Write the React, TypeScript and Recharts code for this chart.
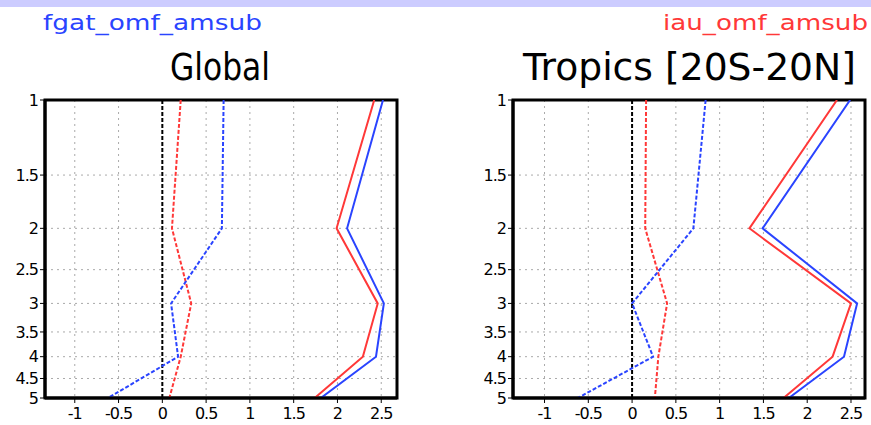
import React from 'react';
import {
  LineChart,
  Line,
  XAxis,
  YAxis,
  CartesianGrid,
  ReferenceLine,
  ReferenceArea,
} from 'recharts';

const channels = [1, 2, 3, 4, 5];
const yTicks = [1, 1.5, 2, 2.5, 3, 3.5, 4, 4.5, 5];
const xTicks = [-1, -0.5, 0, 0.5, 1, 1.5, 2, 2.5];

// Global panel
const globalFgatRms = [2.52, 2.11, 2.53, 2.44, 1.81];
const globalIauRms = [2.42, 1.99, 2.46, 2.29, 1.74];
const globalFgatBias = [0.7, 0.68, 0.1, 0.18, -0.62];
const globalIauBias = [0.21, 0.11, 0.33, 0.21, 0.08];

// Tropics panel
const tropicsFgatRms = [2.49, 1.49, 2.57, 2.42, 1.79];
const tropicsIauRms = [2.34, 1.34, 2.5, 2.29, 1.73];
const tropicsFgatBias = [0.84, 0.7, 0.0, 0.24, -0.62];
const tropicsIauBias = [0.16, 0.15, 0.4, 0.3, 0.26];

const BLUE = '#2a44ff';
const RED = '#ff3838';
const FONT = '"DejaVu Sans", sans-serif';

const buildRows = (fr: number[], ir: number[], fb: number[], ib: number[]) =>
  channels.map((ch, i) => ({
    ch,
    fgatRms: fr[i],
    iauRms: ir[i],
    fgatBias: fb[i],
    iauBias: ib[i],
  }));

const globalRows = buildRows(globalFgatRms, globalIauRms, globalFgatBias, globalIauBias);
const tropicsRows = buildRows(tropicsFgatRms, tropicsIauRms, tropicsFgatBias, tropicsIauBias);

// tick labels: narrow-ish like the plot's stroke font; 4.5 and 5 sit close, keep them apart
const tickStyle = { fill: '#000', fontFamily: FONT, fontSize: '16px', letterSpacing: '-1px' };

interface PanelProps {
  data: ReturnType<typeof buildRows>;
  xDomain: [number, number];
}

function Panel({ data, xDomain }: PanelProps) {
  return (
    <LineChart
      width={400}
      height={425}
      layout="vertical"
      data={data}
      margin={{ top: 100, right: 3, bottom: 2, left: 0 }}
    >
      <CartesianGrid stroke="#aaaaaa" strokeDasharray="2 4" />
      <XAxis
        type="number"
        domain={xDomain}
        ticks={xTicks}
        interval={0}
        allowDataOverflow
        height={25}
        tick={{ style: tickStyle, dy: 3 }}
        tickSize={5}
        tickLine={{ stroke: '#000' }}
        axisLine={{ stroke: '#000', strokeWidth: 3 }}
      />
      <YAxis
        type="number"
        dataKey="ch"
        scale="log"
        domain={[1, 5]}
        ticks={yTicks}
        interval={0}
        allowDataOverflow
        width={45}
        tick={{ style: tickStyle }}
        tickSize={5}
        tickLine={{ stroke: '#000' }}
        axisLine={{ stroke: '#000', strokeWidth: 3 }}
      />
      <ReferenceLine x={0} stroke="#000" strokeWidth={2} strokeDasharray="4 2" />
      <ReferenceArea
        x1={xDomain[0]}
        x2={xDomain[1]}
        y1={1}
        y2={5}
        fill="none"
        fillOpacity={0}
        stroke="#000"
        strokeWidth={3}
        strokeOpacity={1}
      />
      <Line dataKey="iauBias" stroke={RED} strokeWidth={2} strokeDasharray="4 2" dot={false} isAnimationActive={false} />
      <Line dataKey="fgatBias" stroke={BLUE} strokeWidth={2} strokeDasharray="4 2" dot={false} isAnimationActive={false} />
      <Line dataKey="iauRms" stroke={RED} strokeWidth={2} dot={false} isAnimationActive={false} />
      <Line dataKey="fgatRms" stroke={BLUE} strokeWidth={2} dot={false} isAnimationActive={false} />
    </LineChart>
  );
}

export default function App() {
  return (
    <div style={{ position: 'absolute', left: 0, top: 0, width: 871, height: 425, background: '#fff', overflow: 'hidden' }}>
      <div style={{ position: 'absolute', left: 0, top: 0, width: 871, height: 7, background: '#ccccff' }} />
      <div style={{ position: 'absolute', left: 0, top: 0 }}>
        <Panel data={globalRows} xDomain={[-1.34, 2.68]} />
      </div>
      <div style={{ position: 'absolute', left: 468, top: 0 }}>
        <Panel data={tropicsRows} xDomain={[-1.36, 2.66]} />
      </div>
      <svg width={871} height={100} style={{ position: 'absolute', left: 0, top: 0 }}>
        <text x={43} y={30} fill={BLUE} fontSize={22} fontFamily={FONT} textLength={219} lengthAdjust="spacingAndGlyphs">
          fgat_omf_amsub
        </text>
        <text x={663} y={30} fill={RED} fontSize={22} fontFamily={FONT} textLength={205} lengthAdjust="spacingAndGlyphs">
          iau_omf_amsub
        </text>
        <text x={170} y={80} fill="#000" fontSize={37} fontFamily={FONT} textLength={100} lengthAdjust="spacingAndGlyphs">
          Global
        </text>
        <text x={523} y={80} fill="#000" fontSize={37} fontFamily={FONT} textLength={333} lengthAdjust="spacingAndGlyphs">
          Tropics [20S-20N]
        </text>
      </svg>
    </div>
  );
}
